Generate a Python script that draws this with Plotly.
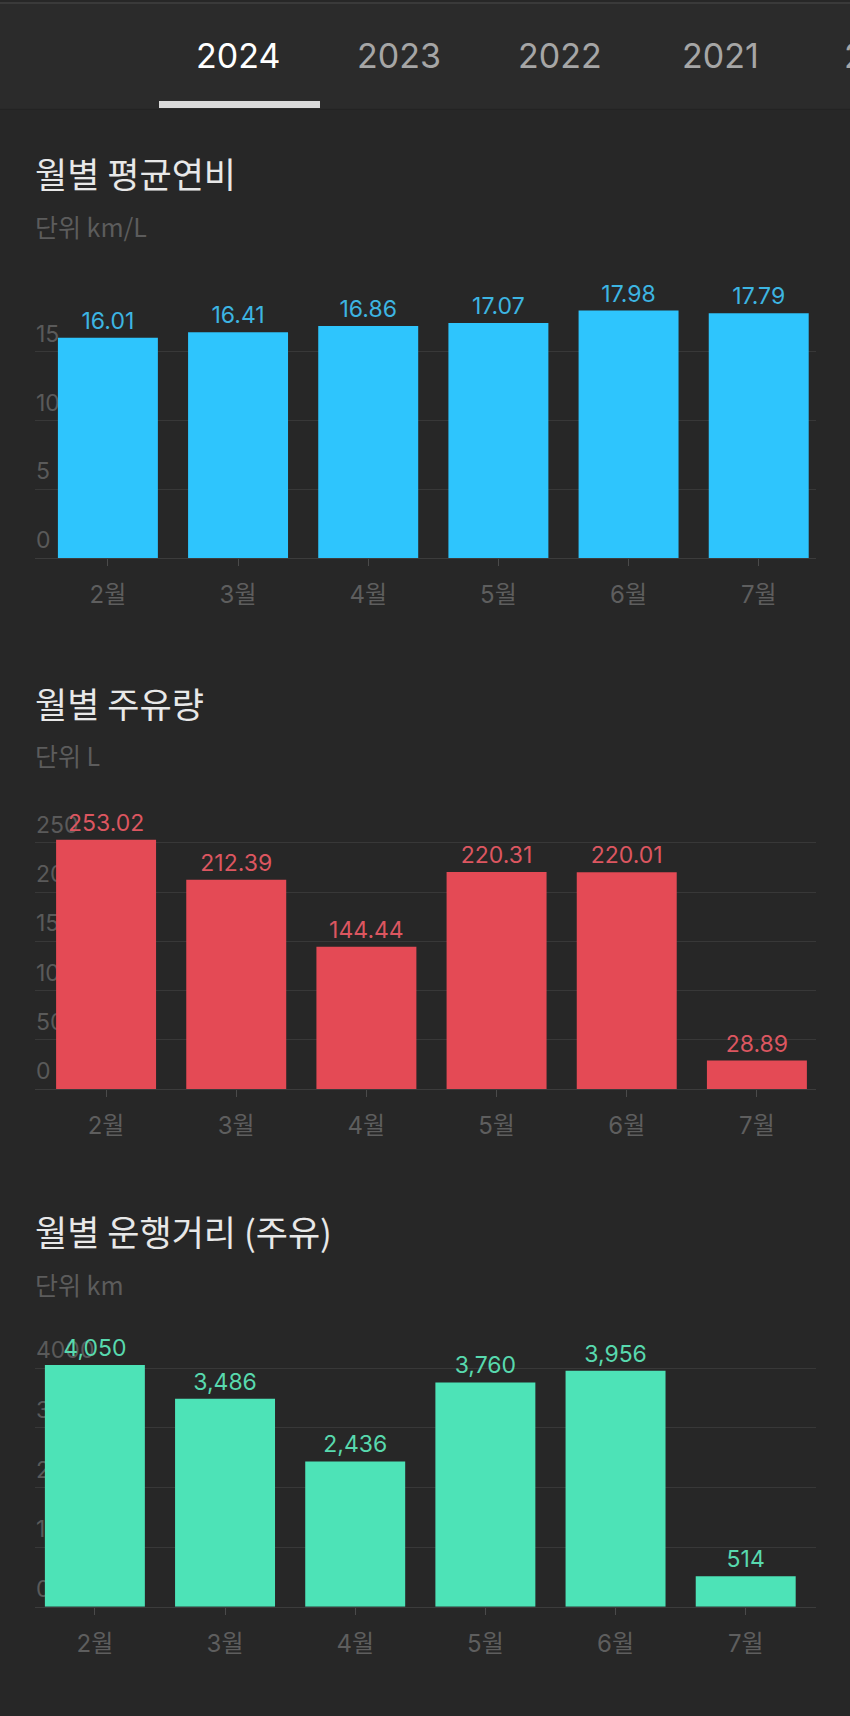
import plotly.graph_objects as go

W, H = 850, 1716

months = ["2월", "3월", "4월", "5월", "6월", "7월"]
fuel_eff = [16.01, 16.41, 16.86, 17.07, 17.98, 17.79]
fuel_amount = [253.02, 212.39, 144.44, 220.31, 220.01, 28.89]
distance = [4050, 3486, 2436, 3760, 3956, 514]

eff_ticks = [0, 5, 10, 15]
amount_ticks = [0, 50, 100, 150, 200, 250]
dist_ticks = [0, 1000, 2000, 3000, 4000]

tabs = ["2024", "2023", "2022", "2021", "2020"]
titles = ["월별 평균연비", "월별 주유량", "월별 운행거리 (주유)"]
units = ["단위 km/L", "단위 L", "단위 km"]

BG = "#272727"
HEADER = "#2b2b2b"
FONT = "Inter, 'Noto Sans CJK KR', sans-serif"
KFONT = "'Noto Sans CJK KR', sans-serif"


def py(p):
    return 1 - p / H


def px_(p):
    return p / W


fig = go.Figure()

charts = [
    dict(vals=fuel_eff, ticks=eff_ticks, bar="#2ec5fd", lab="#3db5e2",
         tmpl="%{y:.2f}", rng=[0, 20], bottom=557, top=281, xr=[-0.56, 5.44]),
    dict(vals=fuel_amount, ticks=amount_ticks, bar="#e44a55", lab="#dc5660",
         tmpl="%{y:.2f}", rng=[0, 300], bottom=1088.3, top=792.5, xr=[-0.546, 5.454]),
    dict(vals=distance, ticks=dist_ticks, bar="#4de3b7", lab="#58d9ae",
         tmpl="%{y:,.0f}", rng=[0, 4500], bottom=1606.7, top=1337.8, xr=[-0.46, 5.54]),
]

for i, c in enumerate(charts):
    n = "" if i == 0 else str(i + 1)
    fig.add_trace(go.Bar(
        x=months, y=c["vals"], xaxis="x" + n, yaxis="y" + n,
        marker=dict(color=c["bar"], line=dict(width=0)),
        texttemplate=c["tmpl"], textposition="outside",
        textfont=dict(family=FONT, size=23, color=c["lab"]),
        cliponaxis=False, showlegend=False, hoverinfo="skip",
    ))
    fig.layout["xaxis" + n] = dict(
        domain=[px_(35), px_(816)], anchor="y" + n, range=c["xr"],
        type="category", showgrid=False, zeroline=False,
        showline=True, linecolor="#3c3c3c", linewidth=1,
        ticks="outside", ticklen=7, tickcolor="#4a4a4a", tickwidth=1,
        tickfont=dict(family=FONT, size=24, color="#5e5e5e"),
        ticklabelstandoff=8, fixedrange=True,
    )
    fig.layout["yaxis" + n] = dict(
        domain=[py(c["bottom"]), py(c["top"])], anchor="free", position=px_(35),
        side="right", range=c["rng"],
        tickvals=c["ticks"], showgrid=True, gridcolor="#383838", gridwidth=1,
        zeroline=False, showline=False, ticks="",
        ticklabelposition="outside", ticklabelshift=-18, ticklabelstandoff=0,
        tickfont=dict(family=FONT, size=23, color="#5a5a5a"),
        layer="below traces", fixedrange=True,
    )

shapes = [
    dict(type="rect", xref="paper", yref="paper", x0=0, x1=1, y0=py(107), y1=1,
         fillcolor=HEADER, line=dict(width=0), layer="below"),
    dict(type="line", xref="paper", yref="paper", x0=0, x1=1, y0=py(1), y1=py(1),
         line=dict(color="#3a3a3a", width=2)),
    dict(type="line", xref="paper", yref="paper", x0=0, x1=1, y0=py(107.5), y1=py(107.5),
         line=dict(color="#232323", width=1)),
    dict(type="rect", xref="paper", yref="paper", x0=px_(159), x1=px_(320),
         y0=py(106), y1=py(99), fillcolor="#d9d9d9", line=dict(width=0)),
]

annotations = []
tab_x = [238, 399, 560, 720, 886]
for j, (t, x) in enumerate(zip(tabs, tab_x)):
    annotations.append(dict(
        text=t, x=px_(x), y=py(54), xref="paper", yref="paper",
        xanchor="center", yanchor="middle", showarrow=False,
        font=dict(family=FONT, size=34, color="#ffffff" if j == 0 else "#a6a6a6"),
    ))

title_y = [171, 701, 1230]
unit_y = [224, 754, 1283]
for t, u, ty, uy in zip(titles, units, title_y, unit_y):
    annotations.append(dict(
        text=t, x=px_(33), y=py(ty), xref="paper", yref="paper",
        xanchor="left", yanchor="middle", showarrow=False,
        font=dict(family=KFONT, size=35, color="#e8e8e8"),
    ))
    annotations.append(dict(
        text=u, x=px_(33), y=py(uy), xref="paper", yref="paper",
        xanchor="left", yanchor="middle", showarrow=False,
        font=dict(family=KFONT, size=25, color="#5c5c5c"),
    ))

fig.update_layout(
    width=W, height=H, margin=dict(l=0, r=0, t=0, b=0),
    paper_bgcolor=BG, plot_bgcolor=BG,
    bargap=0.232, shapes=shapes, annotations=annotations,
    font=dict(family=FONT),
)

fig.write_html("out.html", config={"displayModeBar": False})
